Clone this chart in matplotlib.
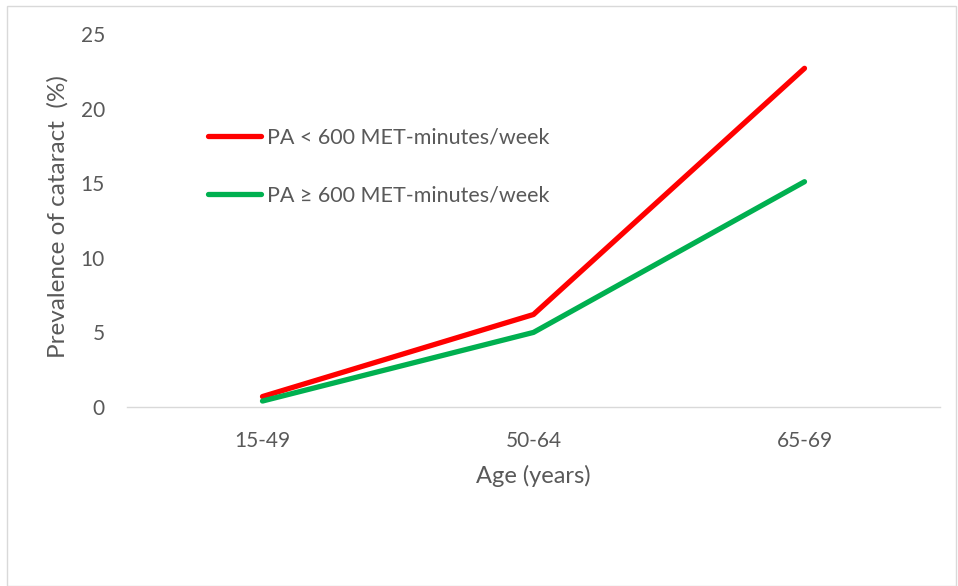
import matplotlib
matplotlib.use('Agg')
import matplotlib.pyplot as plt
from matplotlib.patches import Rectangle

ages = ["15-49", "50-64", "65-69"]
pa_low = [0.7, 6.2, 22.7]
pa_high = [0.4, 5.0, 15.1]
labels = ["PA < 600 MET-minutes/week", "PA \u2265 600 MET-minutes/week"]

plt.rcParams['font.family'] = ['Lato', 'DejaVu Sans']
grey = '#595959'

fig = plt.figure(figsize=(9.58, 5.86), dpi=100)
ax = fig.add_axes([127/958, 1 - 407/586, (940-127)/958, (407-34)/586])

x = range(len(ages))
ax.plot(x, pa_low, color='#FF0000', lw=3.8, solid_capstyle='round', label=labels[0])
ax.plot(x, pa_high, color='#00B050', lw=3.8, solid_capstyle='round', label=labels[1])

ax.set_xlim(-0.5, 2.5)
ax.set_ylim(0, 25)
ax.set_yticks([0, 5, 10, 15, 20, 25])
ax.set_xticks(list(x))
ax.set_xticklabels(ages)
for s in ['top', 'right', 'left']:
    ax.spines[s].set_visible(False)
ax.spines['bottom'].set_color('#d9d9d9')
ax.spines['bottom'].set_linewidth(1.0)
ax.tick_params(axis='both', length=0, labelsize=15, labelcolor=grey)
ax.tick_params(axis='y', pad=16)
ax.tick_params(axis='x', pad=17)

ax.set_xlabel("Age (years)", fontsize=17, color=grey, va='center')
ax.xaxis.set_label_coords(0.5, (407-476)/373)
ax.set_ylabel("Prevalence of cataract  (%)", fontsize=17.5, color=grey, va='center')
ax.yaxis.set_label_coords((58-127)/813, 0.51)

leg = ax.legend(loc='upper left', bbox_to_anchor=(0.076, 0.80), frameon=False,
                fontsize=15.5, labelcolor=grey, handlelength=2.45, labelspacing=1.75,
                handletextpad=0.3)

fig.patches.append(Rectangle((7/958, 0.5/586), 949/958, 580/586, transform=fig.transFigure,
                             fill=False, edgecolor='#d9d9d9', lw=1.0))

fig.savefig('out.png', dpi=100)
